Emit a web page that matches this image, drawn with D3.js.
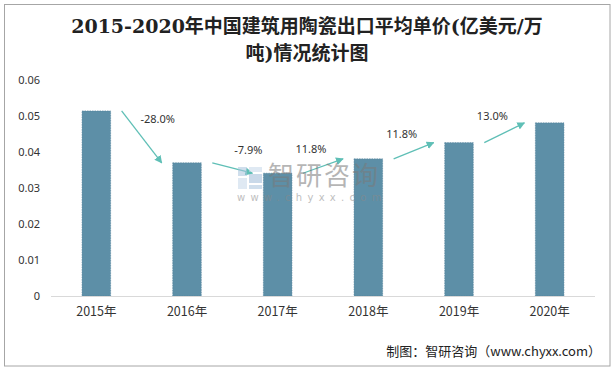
<!DOCTYPE html>
<html><head><meta charset="utf-8">
<script src="https://cdn.jsdelivr.net/npm/d3@7"></script>
<style>body{margin:0;background:#fff}svg{display:block}</style>
</head><body>
<script>
const years = ["2015年","2016年","2017年","2018年","2019年","2020年"];
const prices = [0.0514, 0.0370, 0.0341, 0.0381, 0.0426, 0.0481];
const growth = ["-28.0%","-7.9%","11.8%","11.8%","13.0%"];
const yTicks = [0,0.01,0.02,0.03,0.04,0.05,0.06];
const titleLines = ["2015-2020年中国建筑用陶瓷出口平均单价(亿美元/万","吨)情况统计图"];
const sourceText = "制图：智研咨询（www.chyxx.com）";

const W = 615, H = 369;
const svg = d3.select("body").append("svg").attr("width", W).attr("height", H);
svg.append("rect").attr("x",4.5).attr("y",4.5).attr("width",605.5).attr("height",361.5)
  .attr("fill","#fff").attr("stroke","#a6a6a6").attr("stroke-width",1);

// title
svg.append("g").selectAll("text").data(titleLines).join("text")
  .attr("x", 307).attr("y", (d,i)=>28+i*27)
  .attr("text-anchor","middle").attr("dominant-baseline","middle")
  .attr("font-family","'DejaVu Serif','Noto Sans CJK SC',serif")
  .attr("font-weight","bold").attr("font-size",19).attr("fill","#222")
  .text(d=>d);

const x = d3.scaleBand().domain(years).range([51,595]).paddingInner(0.685).paddingOuter(0.3425);
const y = d3.scaleLinear().domain([0,0.06]).range([296,80]);

// y axis labels
const yAxis = d3.axisLeft(y).tickValues(yTicks).tickSize(0).tickPadding(0).tickFormat(d=>d===0?"0":d3.format(".2f")(d));
const yg = svg.append("g").attr("transform","translate(40,0)").call(yAxis);
yg.select(".domain").remove();
yg.selectAll("text").attr("font-family","'Noto Sans','Noto Sans CJK SC',sans-serif").attr("font-size",11).attr("fill","#333");

// bars
svg.append("g").selectAll("rect").data(prices).join("rect")
  .attr("x",(d,i)=>x(years[i])).attr("y",d=>y(d))
  .attr("width",x.bandwidth()).attr("height",d=>y(0)-y(d))
  .attr("fill","#5d8fa7").attr("stroke","#4f8099").attr("stroke-width",0.6).attr("stroke-dasharray","1.5,1");

// x axis
const xAxis = d3.axisBottom(x).tickSize(0).tickPadding(11);
const xg = svg.append("g").attr("transform","translate(0,296)").call(xAxis);
xg.select(".domain").attr("stroke","#d9d9d9").attr("stroke-width",1.2).attr("d","M51,0.5H595");
xg.selectAll("text").attr("font-family","'Noto Sans CJK SC',sans-serif").attr("font-size",12.5).attr("fill","#333");

// growth arrows
const arrowColor = "#5fbfb6";
const defs = svg.append("defs");
defs.append("marker").attr("id","ah").attr("viewBox","0 0 10 10").attr("refX",9).attr("refY",5)
  .attr("markerWidth",6).attr("markerHeight",6).attr("orient","auto")
  .append("path").attr("d","M0,0L10,5L0,10z").attr("fill",arrowColor);

const arrows = growth.map((g,i)=>{
  const x1 = x(years[i]) + x.bandwidth() + 11, y1 = y(prices[i]);
  const x2 = x(years[i+1]) - 11, y2 = y(prices[i+1]);
  return {g, x1, y1, x2, y2};
});
const ag = svg.append("g");
ag.selectAll("line").data(arrows).join("line")
  .attr("x1",d=>d.x1).attr("y1",d=>d.y1).attr("x2",d=>d.x2).attr("y2",d=>d.y2)
  .attr("stroke",arrowColor).attr("stroke-width",1.3).attr("marker-end","url(#ah)");
ag.selectAll("text").data(arrows).join("text")
  .attr("x",d=>{const m=(d.x1+d.x2)/2; return d.y2>d.y1 ? m+16 : m-12;})
  .attr("y",d=>{const m=(d.y1+d.y2)/2; return d.y2>d.y1 ? m-17 : m-16;})
  .attr("text-anchor","middle").attr("dominant-baseline","middle")
  .attr("font-family","'Noto Sans','Noto Sans CJK SC',sans-serif").attr("font-size",11).attr("fill","#333")
  .text(d=>d.g);

// watermark
const wm = svg.append("g").attr("opacity",0.55);
wm.append("rect").attr("x",238).attr("y",167).attr("width",9).attr("height",9).attr("fill","#a9c4dd");
wm.append("rect").attr("x",249).attr("y",167).attr("width",13).attr("height",5).attr("fill","#c5d8ea");
wm.append("rect").attr("x",249).attr("y",174).attr("width",13).attr("height",9).attr("fill","#9dbbd8");
wm.append("rect").attr("x",238).attr("y",178).attr("width",9).attr("height",11).attr("fill","#c5d8ea");
wm.append("rect").attr("x",249).attr("y",185).attr("width",13).attr("height",4).attr("fill","#a9c4dd");
wm.append("text").attr("x",268).attr("y",178).attr("dominant-baseline","middle")
  .attr("font-family","'Noto Sans CJK SC',sans-serif").attr("font-size",26).attr("fill","#7a7a7a")
  .attr("letter-spacing",2).text("智研咨询");
wm.append("text").attr("x",237).attr("y",198).attr("dominant-baseline","middle")
  .attr("font-family","'DejaVu Sans',sans-serif").attr("font-size",10).attr("fill","#8a8a8a")
  .attr("letter-spacing",5.3).text("www.chyxx.com");

// source
svg.append("text").attr("x",601).attr("y",352).attr("text-anchor","end").attr("dominant-baseline","middle")
  .attr("font-family","'Noto Sans CJK SC',sans-serif").attr("font-size",13).attr("fill","#222")
  .text(sourceText);
</script>
</body></html>
